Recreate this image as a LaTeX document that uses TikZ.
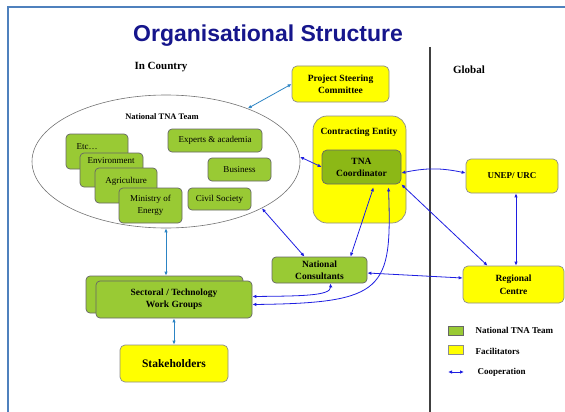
\documentclass[tikz,border=0pt]{standalone}
\usepackage{fontspec}
\setmainfont{Liberation Serif}
\newfontfamily\headfont{Liberation Sans}
\usetikzlibrary{shapes.geometric,arrows.meta}

\definecolor{teamgreen}{RGB}{153,202,52}
\definecolor{coordgreen}{RGB}{140,184,22}
\definecolor{facyellow}{RGB}{255,255,0}
\definecolor{coopblue}{RGB}{30,30,225}
\definecolor{linkblue}{RGB}{44,132,196}
\definecolor{headblue}{RGB}{22,22,140}
\definecolor{framecol}{RGB}{79,129,189}

\begin{document}
\begin{tikzpicture}[x=1pt, y=-1pt,
    teambox/.style={draw=black!60, fill=teamgreen, rounded corners=4pt, inner sep=0pt, line width=0.7pt, align=center, font=\fontsize{9}{12}\selectfont},
    facil/.style={draw=black!45, fill=facyellow, rounded corners=5pt, inner sep=0pt, line width=0.7pt, align=center, font=\fontsize{9.5}{12}\selectfont\bfseries},
    boldlabel/.style={font=\fontsize{9.5}{12}\selectfont\bfseries, align=center},
    coop/.style={{Latex[length=4pt,width=3.5pt]}-{Latex[length=4pt,width=3.5pt]}, coopblue, line width=0.8pt},
    link/.style={coop, linkblue},
]
    \useasboundingbox (0,0) rectangle (565,412);

    % Slide frame and heading
    \draw[framecol, line width=2pt] (7.5,412) -- (7.5,7.5) -- (565,7.5);
    \node[anchor=base, headblue, font=\headfont\bfseries\fontsize{23}{26}\selectfont] (title) at (268,42) {Organisational Structure};
    \node[anchor=base, font=\fontsize{11}{13}\selectfont\bfseries] (incountry) at (161,70) {In Country};
    \node[anchor=base, font=\fontsize{11}{13}\selectfont\bfseries] (global) at (469,74) {Global};
    \draw[black!75, line width=1.6pt] (430,47) -- (430,412);

    % National TNA team
    \node[draw=black!55, line width=0.6pt, ellipse, inner sep=0pt, minimum width=268pt, minimum height=133pt] (tnateam) at (166,161.5) {};
    \node[font=\fontsize{8.5}{10}\selectfont\bfseries] (teamtitle) at (162,117) {National TNA Team};
    \node[teambox, minimum width=62pt, minimum height=35pt] (etc) at (97,151.5) {};
    \node[font=\fontsize{9}{11}\selectfont] (etctxt) at (87,147) {Etc\ldots};
    \node[teambox, minimum width=63pt, minimum height=34pt] (env) at (111.5,170) {};
    \node[font=\fontsize{9}{11}\selectfont] (envtxt) at (111,161) {Environment};
    \node[teambox, minimum width=62pt, minimum height=35pt] (agri) at (126,185.5) {};
    \node[font=\fontsize{9}{11}\selectfont] (agritxt) at (126,181) {Agriculture};
    \node[teambox, minimum width=63pt, minimum height=35pt] (energy) at (150.5,205.5) {Ministry of\\Energy};
    \node[teambox, minimum width=94pt, minimum height=23pt] (experts) at (215,140.5) {Experts \& academia};
    \node[teambox, minimum width=63pt, minimum height=23pt] (business) at (239.5,169.5) {Business};
    \node[teambox, minimum width=63pt, minimum height=22pt] (civil) at (219.5,199) {Civil Society};

    % Steering committee and contracting entity
    \node[facil, minimum width=97pt, minimum height=36pt] (psc) at (340.5,84) {Project Steering\\Committee};
    \node[facil, rounded corners=14pt, minimum width=93pt, minimum height=107pt] (entity) at (359.5,169.5) {};
    \node[boldlabel] (entitytxt) at (359,132) {Contracting Entity};
    \node[teambox, fill=coordgreen, rounded corners=5pt, minimum width=79pt, minimum height=34pt, font=\fontsize{9.5}{12}\selectfont\bfseries] (tna) at (361.5,167) {TNA\\Coordinator};

    % Consultants, work groups, stakeholders
    \node[teambox, minimum width=95pt, minimum height=26pt, font=\fontsize{9.5}{12}\selectfont\bfseries] (nc) at (319.5,270) {National\\Consultants};
    \node[teambox, minimum width=157pt, minimum height=37pt] (wgback) at (164.5,294.5) {};
    \node[teambox, minimum width=156pt, minimum height=37pt, font=\fontsize{9.5}{12}\selectfont\bfseries] (wg) at (174,299.5) {Sectoral / Technology\\Work Groups};
    \node[facil, minimum width=108pt, minimum height=37pt, font=\fontsize{11.5}{13}\selectfont\bfseries] (stake) at (174,363.5) {Stakeholders};

    % Global side
    \node[facil, minimum width=92pt, minimum height=34pt, font=\fontsize{9}{12}\selectfont\bfseries] (unep) at (512,176) {UNEP/ URC};
    \node[facil, minimum width=101pt, minimum height=37pt, font=\fontsize{9.5}{13}\selectfont\bfseries] (rc) at (513.5,284.5) {Regional\\Centre};

    % Cooperation links
    \draw[link] (tnateam.33) -- (psc.west);
    \draw[coop] (tnateam.2) -- (tna.west);
    \draw[coop] (tnateam.-26) -- ([xshift=-15pt]nc.north);
    \draw[link] (tnateam.south) -- (tnateam.south |- wgback.north);
    \draw[link] (wg.south) -- (stake.north);
    \draw[coop] ([xshift=12pt,yshift=-3pt]tna.south) -- ([xshift=31pt]nc.north);
    \draw[coop] ([xshift=27pt,yshift=-3pt]tna.south) .. controls (392,290) and (385,303) .. ([yshift=-5pt]wg.east);
    \draw[coop] ([xshift=11pt]nc.south) .. controls (331,296) and (300,296) .. ([yshift=3pt]wg.east);
    \draw[coop] ([yshift=-6pt]tna.east) to[bend left=12] ([yshift=3pt]unep.west);
    \draw[coop] (tna.south east) -- ([xshift=-26pt]rc.north);
    \draw[coop] ([xshift=4pt]unep.south) -- ([xshift=2.5pt]rc.north);
    \draw[coop] ([yshift=-3pt]nc.east) -- ([yshift=6.5pt]rc.west);

    % Key
    \node[teambox, rounded corners=0pt, minimum width=15pt, minimum height=9pt] (keyteam) at (455.5,330.5) {};
    \node[anchor=west, font=\fontsize{9}{11}\selectfont\bfseries] (keyteamtxt) at (472,330.5) {National TNA Team};
    \node[facil, rounded corners=0pt, minimum width=15pt, minimum height=9pt] (keyfac) at (455.5,349.5) {};
    \node[anchor=west, font=\fontsize{9}{11}\selectfont\bfseries] (keyfactxt) at (472,351.5) {Facilitators};
    \coordinate (keya) at (448,372);
    \coordinate (keyb) at (464,372);
    \draw[coop] (keya) -- (keyb);
    \node[anchor=west, font=\fontsize{9}{11}\selectfont\bfseries] (keycooptxt) at (474,372) {Cooperation};
\end{tikzpicture}
\end{document}
